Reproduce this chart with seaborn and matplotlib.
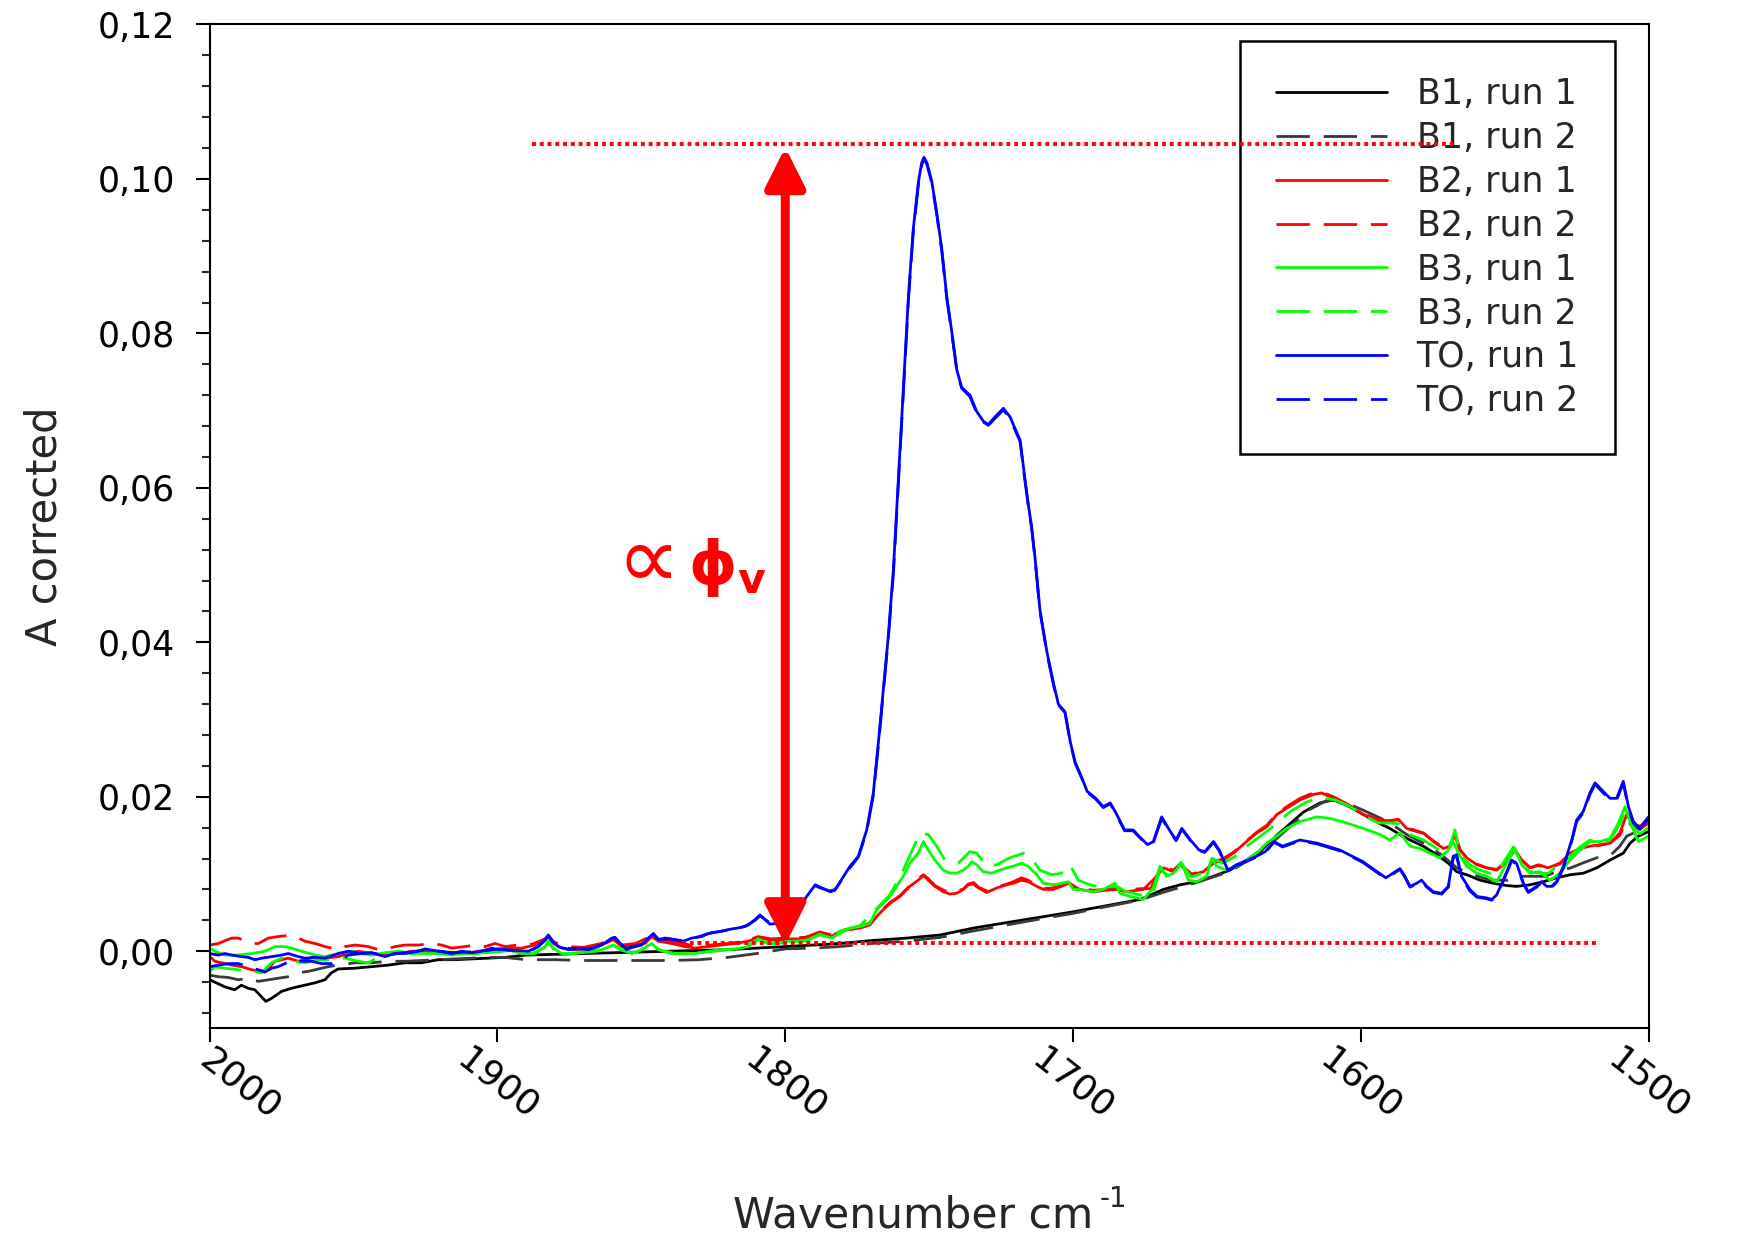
import numpy as np
import pandas as pd
import matplotlib
matplotlib.use('Agg')
import matplotlib.pyplot as plt
from matplotlib.ticker import FuncFormatter, MultipleLocator
from matplotlib.transforms import ScaledTranslation
import seaborn as sns

# 读数据: 每条曲线 [波数, A corrected]
b1_run1 = np.array([
    [2000.0, -0.0037], [1994.8, -0.0046], [1991.3, -0.0050], [1989.0, -0.0044], [1986.6, -0.0048],
    [1984.3, -0.0050], [1980.5, -0.0065], [1978.5, -0.0061], [1975.0, -0.0052], [1971.6, -0.0048],
    [1969.3, -0.0046], [1967.0, -0.0044], [1963.5, -0.0041], [1960.0, -0.0037], [1957.7, -0.0028],
    [1955.4, -0.0023], [1949.6, -0.0022], [1943.8, -0.0020], [1938.0, -0.0018], [1932.2, -0.0015],
    [1926.4, -0.0015], [1920.6, -0.0011], [1914.8, -0.0011], [1909.0, -0.0010], [1903.3, -0.0009],
    [1897.5, -0.0008], [1890.0, -0.0005], [1880.0, -0.0004], [1870.0, -0.0003], [1860.0, -0.0002],
    [1850.0, -0.0001], [1840.0, 0.0000], [1830.0, 0.0001], [1820.0, 0.0002], [1810.0, 0.0004],
    [1800.0, 0.0006], [1790.0, 0.0008], [1781.0, 0.0010], [1769.4, 0.0014], [1757.8, 0.0017],
    [1746.2, 0.0021], [1734.6, 0.0030], [1723.1, 0.0037], [1711.5, 0.0044], [1700.0, 0.0051],
    [1688.3, 0.0059], [1676.7, 0.0067], [1668.6, 0.0080], [1662.8, 0.0086], [1657.0, 0.0090],
    [1651.2, 0.0097], [1645.5, 0.0105], [1639.7, 0.0118], [1633.9, 0.0133], [1629.2, 0.0150],
    [1624.6, 0.0165], [1620.0, 0.0180], [1614.2, 0.0192], [1609.5, 0.0196], [1604.9, 0.0189],
    [1599.1, 0.0177], [1593.3, 0.0165], [1589.9, 0.0159], [1586.4, 0.0151], [1582.9, 0.0144],
    [1578.3, 0.0136], [1573.6, 0.0125], [1569.6, 0.0114], [1566.7, 0.0103], [1563.2, 0.0099],
    [1558.6, 0.0092], [1554.0, 0.0088], [1549.3, 0.0085], [1545.9, 0.0084], [1541.2, 0.0086],
    [1536.6, 0.0090], [1532.0, 0.0095], [1527.3, 0.0099], [1522.7, 0.0101], [1518.0, 0.0108],
    [1513.4, 0.0118], [1508.8, 0.0127], [1506.4, 0.0140], [1503.6, 0.0149], [1500.0, 0.0155],
])

b1_run2 = np.array([
    [2000.0, -0.0031], [1997.0, -0.0033], [1993.5, -0.0034], [1990.0, -0.0037], [1986.6, -0.0035],
    [1983.1, -0.0039], [1979.6, -0.0037], [1976.2, -0.0035], [1972.7, -0.0033], [1969.2, -0.0028],
    [1965.7, -0.0026], [1962.2, -0.0023], [1958.8, -0.0020], [1955.3, -0.0018], [1949.5, -0.0015],
    [1943.7, -0.0015], [1937.9, -0.0013], [1932.1, -0.0013], [1926.3, -0.0012], [1920.5, -0.0011],
    [1914.8, -0.0010], [1909.0, -0.0009], [1903.2, -0.0008], [1897.4, -0.0008], [1890.0, -0.0011],
    [1880.0, -0.0011], [1870.0, -0.0012], [1860.0, -0.0012], [1850.0, -0.0012], [1840.0, -0.0012],
    [1830.0, -0.0011], [1820.0, -0.0008], [1810.0, -0.0003], [1800.0, 0.0003], [1790.0, 0.0004],
    [1781.0, 0.0006], [1770.0, 0.0010], [1758.0, 0.0013], [1746.0, 0.0018], [1735.0, 0.0026],
    [1723.0, 0.0034], [1711.0, 0.0042], [1700.0, 0.0049], [1688.0, 0.0058], [1677.0, 0.0066],
    [1668.0, 0.0077], [1657.0, 0.0089], [1645.0, 0.0104], [1634.0, 0.0130], [1625.0, 0.0160],
    [1618.0, 0.0183], [1612.0, 0.0195], [1607.0, 0.0195], [1600.0, 0.0184], [1593.0, 0.0172],
    [1589.9, 0.0166], [1584.0, 0.0151], [1578.3, 0.0140], [1572.0, 0.0125], [1566.7, 0.0108],
    [1561.0, 0.0099], [1555.0, 0.0092], [1549.0, 0.0092], [1546.0, 0.0097], [1541.0, 0.0097],
    [1536.0, 0.0097], [1532.0, 0.0103], [1527.0, 0.0108], [1523.0, 0.0114], [1518.0, 0.0121],
    [1513.0, 0.0125], [1510.0, 0.0136], [1507.6, 0.0149], [1504.0, 0.0155], [1500.0, 0.0164],
])

b2_run1 = np.array([
    [2000.0, -0.0007], [1998.2, -0.0013], [1995.8, -0.0015], [1992.4, -0.0018], [1988.9, -0.0020],
    [1985.4, -0.0024], [1981.9, -0.0026], [1979.6, -0.0022], [1977.3, -0.0013], [1975.0, -0.0011],
    [1972.7, -0.0009], [1969.2, -0.0013], [1966.9, -0.0011], [1963.4, -0.0007], [1959.9, -0.0009],
    [1955.3, -0.0007], [1951.8, -0.0003], [1948.4, 0.0000], [1943.7, -0.0003], [1939.1, -0.0005],
    [1934.5, -0.0003], [1929.8, 0.0000], [1925.2, 0.0000], [1920.6, -0.0003], [1915.9, -0.0002],
    [1911.3, -0.0003], [1906.7, 0.0000], [1902.0, 0.0002], [1896.2, 0.0004], [1891.6, 0.0004],
    [1887.0, 0.0008], [1883.5, 0.0015], [1882.3, 0.0019], [1880.6, 0.0010], [1877.7, 0.0004],
    [1873.1, 0.0002], [1868.4, 0.0003], [1863.8, 0.0008], [1859.7, 0.0015], [1856.8, 0.0006],
    [1853.4, 0.0008], [1848.7, 0.0010], [1846.4, 0.0019], [1844.1, 0.0013], [1839.5, 0.0010],
    [1834.8, 0.0006], [1831.4, 0.0004], [1826.7, 0.0006], [1822.1, 0.0008], [1817.5, 0.0010],
    [1812.8, 0.0013], [1809.4, 0.0018], [1805.9, 0.0015], [1802.4, 0.0014], [1798.9, 0.0016],
    [1793.0, 0.0016], [1788.0, 0.0024], [1784.0, 0.0019], [1781.0, 0.0026], [1777.5, 0.0028],
    [1774.0, 0.0030], [1770.6, 0.0034], [1768.2, 0.0045], [1765.9, 0.0054], [1763.6, 0.0062],
    [1760.1, 0.0071], [1756.7, 0.0084], [1753.8, 0.0092], [1752.0, 0.0098], [1750.3, 0.0092],
    [1748.0, 0.0084], [1745.1, 0.0077], [1742.8, 0.0074], [1740.5, 0.0075], [1738.1, 0.0080],
    [1736.4, 0.0086], [1734.6, 0.0087], [1732.9, 0.0082], [1730.0, 0.0076], [1726.5, 0.0082],
    [1723.1, 0.0086], [1720.8, 0.0088], [1717.9, 0.0092], [1715.6, 0.0090], [1712.6, 0.0084],
    [1710.3, 0.0080], [1706.9, 0.0080], [1704.0, 0.0084], [1701.6, 0.0088], [1699.9, 0.0084],
    [1697.6, 0.0080], [1693.0, 0.0077], [1688.3, 0.0079], [1684.9, 0.0080], [1681.4, 0.0077],
    [1675.6, 0.0080], [1670.9, 0.0097], [1668.6, 0.0108], [1665.1, 0.0103], [1662.8, 0.0112],
    [1658.8, 0.0099], [1654.7, 0.0103], [1651.2, 0.0114], [1647.8, 0.0118], [1644.3, 0.0127],
    [1639.7, 0.0142], [1636.2, 0.0153], [1632.7, 0.0161], [1629.2, 0.0177], [1625.8, 0.0185],
    [1621.1, 0.0196], [1616.5, 0.0203], [1613.6, 0.0205], [1609.5, 0.0198], [1604.9, 0.0190],
    [1599.1, 0.0177], [1594.5, 0.0170], [1591.0, 0.0168], [1587.0, 0.0171], [1584.1, 0.0159],
    [1580.6, 0.0155], [1578.3, 0.0153], [1574.8, 0.0142], [1571.3, 0.0133], [1569.0, 0.0136],
    [1567.3, 0.0153], [1565.5, 0.0131], [1563.2, 0.0121], [1559.7, 0.0112], [1556.3, 0.0108],
    [1552.8, 0.0105], [1549.9, 0.0114], [1546.4, 0.0131], [1544.1, 0.0118], [1541.2, 0.0108],
    [1538.3, 0.0112], [1534.9, 0.0108], [1530.8, 0.0114], [1527.3, 0.0127], [1523.8, 0.0133],
    [1520.4, 0.0136], [1516.9, 0.0138], [1513.4, 0.0140], [1510.0, 0.0153], [1507.6, 0.0177],
    [1505.3, 0.0164], [1503.0, 0.0162], [1500.0, 0.0170],
])

b2_run2 = np.array([
    [2000.0, 0.0008], [1997.0, 0.0010], [1992.4, 0.0017], [1990.0, 0.0017], [1987.7, 0.0013],
    [1985.4, 0.0010], [1983.1, 0.0010], [1979.6, 0.0017], [1976.2, 0.0019], [1971.5, 0.0021],
    [1969.2, 0.0017], [1966.9, 0.0013], [1963.4, 0.0010], [1959.9, 0.0006], [1957.6, 0.0004],
    [1955.3, 0.0002], [1953.0, 0.0006], [1949.5, 0.0008], [1944.9, 0.0006], [1941.4, 0.0002],
    [1939.1, 0.0002], [1935.6, 0.0006], [1932.1, 0.0008], [1927.5, 0.0008], [1922.9, 0.0010],
    [1919.4, 0.0008], [1915.9, 0.0004], [1911.3, 0.0006], [1907.8, 0.0008], [1904.3, 0.0006],
    [1900.9, 0.0010], [1897.4, 0.0006], [1893.0, 0.0008], [1888.0, 0.0009], [1883.5, 0.0016],
    [1882.3, 0.0020], [1880.6, 0.0012], [1876.0, 0.0006], [1870.0, 0.0005], [1864.0, 0.0010],
    [1859.7, 0.0016], [1856.8, 0.0008], [1852.0, 0.0010], [1846.4, 0.0020], [1843.0, 0.0014],
    [1838.0, 0.0012], [1832.0, 0.0007], [1826.0, 0.0008], [1820.0, 0.0010], [1814.0, 0.0013],
    [1809.4, 0.0019], [1805.0, 0.0016], [1799.0, 0.0017], [1793.0, 0.0018], [1788.0, 0.0025],
    [1784.0, 0.0021], [1781.0, 0.0027], [1776.0, 0.0030], [1771.0, 0.0036], [1768.0, 0.0047],
    [1765.9, 0.0055], [1763.6, 0.0063], [1760.1, 0.0072], [1756.7, 0.0085], [1753.8, 0.0094],
    [1752.0, 0.0099], [1750.3, 0.0094], [1748.0, 0.0085], [1745.0, 0.0079], [1742.8, 0.0076],
    [1740.5, 0.0077], [1738.0, 0.0081], [1736.4, 0.0087], [1734.6, 0.0089], [1732.9, 0.0083],
    [1730.0, 0.0078], [1726.5, 0.0083], [1723.0, 0.0087], [1720.8, 0.0090], [1717.9, 0.0095],
    [1715.6, 0.0092], [1712.6, 0.0085], [1710.3, 0.0081], [1707.0, 0.0082], [1704.0, 0.0085],
    [1701.6, 0.0089], [1699.9, 0.0085], [1697.6, 0.0081], [1693.0, 0.0079], [1688.3, 0.0080],
    [1684.9, 0.0081], [1681.4, 0.0079], [1676.7, 0.0081], [1673.0, 0.0081], [1670.9, 0.0098],
    [1668.6, 0.0109], [1665.1, 0.0105], [1662.8, 0.0113], [1658.8, 0.0100], [1654.7, 0.0104],
    [1651.2, 0.0115], [1647.8, 0.0120], [1644.3, 0.0128], [1639.7, 0.0143], [1636.2, 0.0154],
    [1632.7, 0.0163], [1629.2, 0.0178], [1625.8, 0.0187], [1621.1, 0.0198], [1616.5, 0.0205],
    [1613.6, 0.0206], [1609.5, 0.0200], [1604.9, 0.0191], [1599.1, 0.0178], [1594.5, 0.0171],
    [1591.0, 0.0169], [1587.0, 0.0170], [1584.1, 0.0160], [1580.6, 0.0156], [1578.3, 0.0153],
    [1574.8, 0.0143], [1571.3, 0.0134], [1569.0, 0.0137], [1567.3, 0.0150], [1565.5, 0.0131],
    [1563.2, 0.0121], [1559.7, 0.0113], [1556.3, 0.0108], [1552.8, 0.0106], [1549.9, 0.0114],
    [1546.4, 0.0129], [1544.1, 0.0118], [1541.2, 0.0108], [1538.3, 0.0111], [1534.9, 0.0107],
    [1530.8, 0.0113], [1527.3, 0.0125], [1523.8, 0.0132], [1520.4, 0.0135], [1516.9, 0.0137],
    [1513.4, 0.0140], [1510.0, 0.0150], [1507.6, 0.0170], [1505.3, 0.0160], [1503.0, 0.0158],
    [1500.0, 0.0166],
])

b3_run1 = np.array([
    [2000.0, 0.0004], [1998.2, 0.0000], [1994.7, -0.0005], [1990.0, -0.0005], [1985.4, -0.0003],
    [1980.8, 0.0000], [1977.3, 0.0006], [1973.8, 0.0006], [1971.5, 0.0004], [1968.0, 0.0000],
    [1963.4, -0.0005], [1959.9, -0.0007], [1955.3, -0.0003], [1950.7, 0.0000], [1947.2, -0.0003],
    [1943.7, -0.0005], [1939.1, -0.0002], [1934.5, 0.0000], [1929.8, -0.0003], [1925.2, -0.0003],
    [1920.6, -0.0003], [1915.9, -0.0005], [1911.3, -0.0003], [1906.7, -0.0003], [1902.0, 0.0001],
    [1896.2, 0.0002], [1891.6, -0.0003], [1887.0, -0.0003], [1883.5, 0.0006], [1882.3, 0.0013],
    [1880.6, 0.0004], [1877.7, -0.0003], [1873.1, -0.0003], [1868.4, 0.0000], [1863.8, 0.0002],
    [1859.7, 0.0008], [1856.8, 0.0002], [1853.4, -0.0003], [1849.9, 0.0002], [1846.4, 0.0010],
    [1844.1, 0.0002], [1839.5, -0.0003], [1834.8, -0.0003], [1831.4, -0.0003], [1826.7, 0.0000],
    [1822.1, 0.0002], [1817.5, 0.0003], [1812.8, 0.0006], [1809.4, 0.0016], [1805.9, 0.0010],
    [1802.4, 0.0010], [1798.9, 0.0013], [1793.0, 0.0013], [1788.0, 0.0022], [1784.0, 0.0017],
    [1781.0, 0.0023], [1777.5, 0.0030], [1774.0, 0.0032], [1770.6, 0.0036], [1768.2, 0.0054],
    [1765.9, 0.0062], [1763.6, 0.0071], [1761.3, 0.0084], [1759.0, 0.0097], [1756.7, 0.0114],
    [1753.8, 0.0127], [1752.0, 0.0142], [1750.3, 0.0131], [1748.0, 0.0118], [1745.1, 0.0105],
    [1742.8, 0.0101], [1740.5, 0.0101], [1738.1, 0.0105], [1736.4, 0.0110], [1735.2, 0.0116],
    [1733.5, 0.0112], [1731.2, 0.0103], [1728.3, 0.0101], [1725.4, 0.0105], [1723.1, 0.0108],
    [1720.8, 0.0110], [1717.9, 0.0114], [1715.6, 0.0110], [1712.6, 0.0099], [1710.3, 0.0088],
    [1706.9, 0.0086], [1704.0, 0.0088], [1701.6, 0.0090], [1699.9, 0.0080], [1697.6, 0.0080],
    [1693.0, 0.0077], [1689.5, 0.0080], [1685.4, 0.0088], [1683.7, 0.0075], [1680.2, 0.0071],
    [1675.6, 0.0067], [1672.1, 0.0082], [1669.8, 0.0110], [1667.5, 0.0097], [1665.1, 0.0101],
    [1662.2, 0.0114], [1659.9, 0.0092], [1657.0, 0.0090], [1653.6, 0.0097], [1651.8, 0.0120],
    [1650.1, 0.0110], [1646.6, 0.0105], [1643.1, 0.0110], [1639.7, 0.0118], [1636.2, 0.0127],
    [1632.7, 0.0140], [1629.2, 0.0149], [1625.8, 0.0159], [1621.1, 0.0168], [1615.3, 0.0174],
    [1610.7, 0.0172], [1604.9, 0.0166], [1599.1, 0.0159], [1593.3, 0.0151], [1589.9, 0.0144],
    [1586.4, 0.0153], [1582.9, 0.0136], [1579.4, 0.0133], [1576.0, 0.0127], [1572.5, 0.0121],
    [1569.6, 0.0131], [1567.9, 0.0142], [1566.1, 0.0127], [1563.2, 0.0110], [1559.7, 0.0101],
    [1556.3, 0.0097], [1552.8, 0.0090], [1549.9, 0.0110], [1546.4, 0.0133], [1544.1, 0.0112],
    [1541.2, 0.0101], [1537.7, 0.0103], [1534.3, 0.0092], [1530.8, 0.0101], [1527.3, 0.0118],
    [1523.8, 0.0131], [1520.4, 0.0142], [1516.9, 0.0142], [1513.4, 0.0146], [1510.5, 0.0166],
    [1508.2, 0.0187], [1506.5, 0.0168], [1503.6, 0.0142], [1500.0, 0.0149],
])

b3_run2 = np.array([
    [2000.0, -0.0026], [1998.2, -0.0020], [1994.7, -0.0022], [1990.0, -0.0024], [1985.4, -0.0026],
    [1981.9, -0.0028], [1978.5, -0.0015], [1975.0, -0.0009], [1971.5, -0.0013], [1966.9, -0.0015],
    [1962.3, -0.0011], [1957.6, -0.0011], [1953.0, -0.0009], [1948.4, -0.0013], [1944.9, -0.0015],
    [1940.0, -0.0005], [1935.0, -0.0003], [1930.0, -0.0002], [1920.0, -0.0003], [1910.0, -0.0003],
    [1900.0, -0.0001], [1896.0, 0.0001], [1888.0, -0.0003], [1883.5, 0.0005], [1882.3, 0.0012],
    [1880.6, 0.0003], [1876.0, -0.0003], [1868.0, -0.0001], [1863.8, 0.0001], [1859.7, 0.0008],
    [1856.8, 0.0001], [1852.0, -0.0002], [1846.4, 0.0010], [1844.0, 0.0002], [1838.0, -0.0003],
    [1830.0, -0.0002], [1822.0, 0.0001], [1815.0, 0.0004], [1809.4, 0.0015], [1806.0, 0.0010],
    [1799.0, 0.0012], [1793.0, 0.0014], [1788.0, 0.0021], [1784.0, 0.0018], [1781.0, 0.0026],
    [1774.0, 0.0033], [1769.4, 0.0051], [1763.6, 0.0073], [1759.0, 0.0105], [1756.1, 0.0129],
    [1753.2, 0.0153], [1750.3, 0.0151], [1747.4, 0.0136], [1744.5, 0.0118], [1739.9, 0.0114],
    [1735.8, 0.0129], [1733.5, 0.0127], [1730.0, 0.0110], [1726.5, 0.0112], [1722.5, 0.0120],
    [1717.3, 0.0127], [1714.4, 0.0120], [1711.5, 0.0105], [1707.4, 0.0099], [1704.0, 0.0101],
    [1701.1, 0.0112], [1698.2, 0.0092], [1694.1, 0.0086], [1689.5, 0.0082], [1684.8, 0.0084],
    [1681.4, 0.0077], [1676.7, 0.0073], [1672.1, 0.0075], [1669.8, 0.0107], [1667.0, 0.0098],
    [1662.5, 0.0115], [1659.0, 0.0096], [1654.0, 0.0102], [1651.5, 0.0120], [1648.0, 0.0114],
    [1644.0, 0.0122], [1640.0, 0.0135], [1636.0, 0.0146], [1632.0, 0.0157], [1628.0, 0.0170],
    [1624.0, 0.0182], [1619.0, 0.0193], [1614.0, 0.0199], [1609.0, 0.0196], [1604.0, 0.0188],
    [1599.0, 0.0176], [1594.0, 0.0166], [1589.9, 0.0166], [1586.4, 0.0165], [1582.9, 0.0151],
    [1578.3, 0.0144], [1574.8, 0.0136], [1571.3, 0.0127], [1569.0, 0.0136], [1567.3, 0.0157],
    [1565.5, 0.0125], [1562.1, 0.0112], [1558.6, 0.0105], [1555.1, 0.0101], [1552.8, 0.0101],
    [1549.9, 0.0118], [1547.0, 0.0135], [1544.1, 0.0112], [1541.2, 0.0103], [1537.7, 0.0101],
    [1534.9, 0.0101], [1531.9, 0.0110], [1527.3, 0.0123], [1523.8, 0.0135], [1520.4, 0.0144],
    [1515.7, 0.0140], [1513.4, 0.0144], [1509.9, 0.0166], [1508.5, 0.0178], [1506.0, 0.0163],
    [1503.0, 0.0152], [1500.0, 0.0160],
])

to_run1 = np.array([
    [2000.0, -0.0003], [1997.0, -0.0005], [1994.7, -0.0003], [1992.4, -0.0005], [1988.9, -0.0007],
    [1986.6, -0.0008], [1984.3, -0.0011], [1981.9, -0.0009], [1978.5, -0.0007], [1975.0, -0.0005],
    [1972.7, -0.0003], [1969.2, -0.0007], [1966.9, -0.0009], [1963.4, -0.0008], [1959.9, -0.0009],
    [1955.3, -0.0003], [1951.8, 0.0000], [1947.2, -0.0003], [1943.7, -0.0002], [1939.1, -0.0007],
    [1935.6, -0.0003], [1932.1, -0.0003], [1927.5, 0.0000], [1925.2, 0.0003], [1920.5, 0.0000],
    [1915.9, -0.0003], [1912.4, 0.0000], [1909.0, -0.0002], [1905.5, 0.0000], [1902.0, 0.0004],
    [1899.7, 0.0002], [1897.4, 0.0002], [1893.9, 0.0001], [1889.3, 0.0000], [1885.8, 0.0006],
    [1883.5, 0.0015], [1882.3, 0.0021], [1881.2, 0.0015], [1878.9, 0.0006], [1875.4, 0.0002],
    [1871.9, 0.0004], [1868.4, 0.0002], [1865.0, 0.0006], [1862.6, 0.0011], [1860.3, 0.0017],
    [1859.2, 0.0018], [1857.4, 0.0010], [1855.1, 0.0002], [1853.4, 0.0006], [1849.9, 0.0008],
    [1847.6, 0.0017], [1845.8, 0.0023], [1844.1, 0.0015], [1841.8, 0.0017], [1838.3, 0.0015],
    [1835.4, 0.0013], [1832.5, 0.0017], [1829.0, 0.0019], [1826.7, 0.0023], [1822.1, 0.0026],
    [1819.8, 0.0028], [1815.1, 0.0031], [1812.8, 0.0034], [1810.5, 0.0041], [1808.8, 0.0047],
    [1807.0, 0.0041], [1805.3, 0.0035], [1803.0, 0.0036], [1794.9, 0.0059], [1789.6, 0.0086],
    [1787.9, 0.0083], [1784.4, 0.0077], [1782.7, 0.0079], [1780.4, 0.0093], [1777.5, 0.0110],
    [1774.6, 0.0123], [1771.7, 0.0157], [1769.4, 0.0205], [1767.6, 0.0272], [1765.9, 0.0340],
    [1764.2, 0.0408], [1762.4, 0.0496], [1760.7, 0.0611], [1758.9, 0.0733], [1757.2, 0.0848],
    [1755.5, 0.0936], [1753.7, 0.0997], [1752.6, 0.1021], [1751.8, 0.1028], [1750.8, 0.1021],
    [1749.1, 0.0997], [1747.4, 0.0957], [1745.6, 0.0909], [1743.9, 0.0848], [1742.1, 0.0801],
    [1740.4, 0.0753], [1738.7, 0.0730], [1735.8, 0.0720], [1733.5, 0.0699], [1731.1, 0.0686],
    [1729.4, 0.0682], [1727.1, 0.0692], [1724.2, 0.0703], [1721.9, 0.0692], [1719.6, 0.0672],
    [1718.4, 0.0662], [1716.7, 0.0611], [1715.5, 0.0577], [1714.4, 0.0550], [1713.2, 0.0509],
    [1711.5, 0.0442], [1709.1, 0.0388], [1706.8, 0.0347], [1705.1, 0.0320], [1702.8, 0.0310],
    [1701.0, 0.0272], [1699.3, 0.0245], [1697.1, 0.0226], [1695.1, 0.0207], [1692.1, 0.0198],
    [1689.5, 0.0187], [1687.1, 0.0192], [1685.1, 0.0179], [1682.1, 0.0157], [1679.1, 0.0157],
    [1677.1, 0.0149], [1674.1, 0.0138], [1672.1, 0.0142], [1669.2, 0.0174], [1666.2, 0.0155],
    [1664.2, 0.0144], [1662.2, 0.0159], [1659.2, 0.0144], [1656.2, 0.0131], [1654.2, 0.0129],
    [1651.2, 0.0142], [1649.2, 0.0131], [1646.2, 0.0105], [1643.2, 0.0112], [1639.2, 0.0118],
    [1636.2, 0.0123], [1633.2, 0.0129], [1630.2, 0.0142], [1627.2, 0.0136], [1621.2, 0.0144],
    [1615.3, 0.0140], [1607.3, 0.0131], [1599.3, 0.0116], [1591.3, 0.0095], [1586.4, 0.0107],
    [1584.7, 0.0097], [1582.9, 0.0084], [1580.6, 0.0088], [1578.9, 0.0092], [1577.1, 0.0084],
    [1574.8, 0.0077], [1571.9, 0.0075], [1569.6, 0.0084], [1567.9, 0.0123], [1566.7, 0.0125],
    [1565.0, 0.0097], [1562.1, 0.0080], [1559.7, 0.0071], [1556.3, 0.0069], [1554.5, 0.0067],
    [1552.8, 0.0073], [1550.5, 0.0092], [1547.6, 0.0118], [1545.9, 0.0114], [1543.5, 0.0088],
    [1541.8, 0.0077], [1538.9, 0.0084], [1537.2, 0.0090], [1535.4, 0.0084], [1533.7, 0.0084],
    [1532.0, 0.0090], [1529.6, 0.0110], [1526.7, 0.0144], [1525.0, 0.0170], [1522.7, 0.0181],
    [1520.4, 0.0205], [1518.6, 0.0218], [1516.3, 0.0209], [1513.4, 0.0198], [1511.1, 0.0198],
    [1508.8, 0.0220], [1507.0, 0.0187], [1505.3, 0.0168], [1503.0, 0.0159], [1501.3, 0.0168],
    [1500.0, 0.0174],
])

to_run2 = np.array([
    [2000.0, -0.0020], [1997.0, -0.0018], [1993.5, -0.0016], [1990.0, -0.0016], [1986.6, -0.0020],
    [1983.1, -0.0024], [1980.8, -0.0027], [1978.5, -0.0022], [1976.2, -0.0020], [1973.8, -0.0016],
    [1971.5, -0.0011], [1969.2, -0.0013], [1966.9, -0.0013], [1964.6, -0.0013], [1961.1, -0.0016],
    [1957.6, -0.0016], [1955.3, -0.0013], [1951.8, -0.0005], [1947.2, -0.0003], [1943.7, -0.0002],
    [1939.1, -0.0006], [1935.6, -0.0003], [1930.0, -0.0001], [1925.0, 0.0002], [1920.0, 0.0000],
    [1915.0, -0.0002], [1910.0, -0.0001], [1905.0, 0.0000], [1900.0, 0.0003], [1895.0, 0.0001],
    [1889.0, 0.0000], [1885.8, 0.0006], [1883.5, 0.0014], [1882.3, 0.0020], [1881.2, 0.0014],
    [1878.9, 0.0006], [1874.0, 0.0003], [1868.0, 0.0003], [1863.0, 0.0009], [1860.3, 0.0016],
    [1859.0, 0.0017], [1857.4, 0.0010], [1855.0, 0.0003], [1850.0, 0.0008], [1847.6, 0.0016],
    [1845.8, 0.0022], [1844.0, 0.0015], [1840.0, 0.0016], [1835.4, 0.0013], [1832.5, 0.0016],
    [1829.0, 0.0020], [1826.7, 0.0023], [1822.0, 0.0026], [1818.0, 0.0029], [1814.0, 0.0032],
    [1810.5, 0.0040], [1808.8, 0.0046], [1807.0, 0.0041], [1805.0, 0.0036], [1803.0, 0.0037],
    [1795.0, 0.0058], [1789.6, 0.0085], [1787.9, 0.0082], [1784.4, 0.0078], [1782.7, 0.0080],
    [1780.4, 0.0092], [1777.5, 0.0108], [1774.6, 0.0122], [1771.7, 0.0155], [1769.4, 0.0202],
    [1767.6, 0.0268], [1765.9, 0.0336], [1764.2, 0.0404], [1762.4, 0.0490], [1760.7, 0.0605],
    [1758.9, 0.0728], [1757.2, 0.0843], [1755.5, 0.0932], [1753.7, 0.0994], [1752.6, 0.1018],
    [1751.8, 0.1026], [1750.8, 0.1019], [1749.1, 0.0995], [1747.4, 0.0955], [1745.6, 0.0906],
    [1743.9, 0.0846], [1742.1, 0.0799], [1740.4, 0.0752], [1738.7, 0.0729], [1735.8, 0.0718],
    [1733.5, 0.0697], [1731.1, 0.0685], [1729.4, 0.0681], [1727.1, 0.0690], [1724.2, 0.0701],
    [1721.9, 0.0690], [1719.6, 0.0670], [1718.4, 0.0660], [1716.7, 0.0609], [1715.5, 0.0575],
    [1714.4, 0.0548], [1713.2, 0.0507], [1711.5, 0.0440], [1709.1, 0.0386], [1706.8, 0.0345],
    [1705.1, 0.0319], [1702.8, 0.0309], [1701.0, 0.0271], [1699.3, 0.0244], [1697.1, 0.0225],
    [1695.1, 0.0206], [1692.1, 0.0197], [1689.5, 0.0186], [1687.1, 0.0191], [1685.1, 0.0178],
    [1682.1, 0.0156], [1679.1, 0.0156], [1677.1, 0.0148], [1674.1, 0.0137], [1672.1, 0.0141],
    [1669.2, 0.0172], [1666.2, 0.0154], [1664.2, 0.0143], [1662.2, 0.0158], [1659.2, 0.0143],
    [1656.2, 0.0130], [1654.2, 0.0128], [1651.2, 0.0141], [1649.2, 0.0130], [1646.2, 0.0104],
    [1643.2, 0.0111], [1639.2, 0.0117], [1636.2, 0.0122], [1633.2, 0.0128], [1630.2, 0.0141],
    [1627.2, 0.0135], [1621.2, 0.0143], [1615.3, 0.0139], [1607.3, 0.0130], [1599.3, 0.0115],
    [1591.3, 0.0094], [1586.4, 0.0106], [1584.7, 0.0096], [1582.9, 0.0083], [1580.6, 0.0087],
    [1578.9, 0.0091], [1577.1, 0.0083], [1574.8, 0.0076], [1571.9, 0.0074], [1569.6, 0.0083],
    [1567.9, 0.0121], [1566.7, 0.0123], [1565.0, 0.0095], [1562.1, 0.0078], [1559.7, 0.0070],
    [1556.3, 0.0068], [1554.5, 0.0066], [1552.8, 0.0072], [1550.5, 0.0091], [1547.6, 0.0117],
    [1545.9, 0.0113], [1543.5, 0.0087], [1541.8, 0.0076], [1538.9, 0.0083], [1537.2, 0.0089],
    [1535.4, 0.0083], [1533.7, 0.0083], [1532.0, 0.0089], [1529.6, 0.0108], [1526.7, 0.0143],
    [1525.0, 0.0168], [1522.7, 0.0179], [1520.4, 0.0203], [1518.6, 0.0216], [1516.3, 0.0207],
    [1513.4, 0.0196], [1511.1, 0.0196], [1508.8, 0.0218], [1507.0, 0.0185], [1505.3, 0.0166],
    [1503.0, 0.0158], [1501.3, 0.0166], [1500.0, 0.0173],
])

series_labels = ['B1, run 1', 'B1, run 2', 'B2, run 1', 'B2, run 2',
                 'B3, run 1', 'B3, run 2', 'TO, run 1', 'TO, run 2']
series_data = [b1_run1, b1_run2, b2_run1, b2_run2, b3_run1, b3_run2, to_run1, to_run2]
series_colors = ['#000000', '#3a3a3a', '#ff0000', '#ff0000',
                 '#00ff00', '#00ff00', '#0000ff', '#0000ff']

y_ticks = [0.00, 0.02, 0.04, 0.06, 0.08, 0.10, 0.12]
x_ticks = [2000, 1900, 1800, 1700, 1600, 1500]

# 标注: 峰高箭头和两条红色虚线
arrow_wn = 1800
peak_level = 0.1045
base_level = 0.0011
peak_span = [1888, 1568]
base_span = [1836, 1517]

frames = []
for lab, arr in zip(series_labels, series_data):
    frames.append(pd.DataFrame({'wn': arr[:, 0], 'A': arr[:, 1], 'serie': lab}))
df = pd.concat(frames, ignore_index=True)

sns.set_style('ticks')
plt.rcParams['font.family'] = ['DejaVu Sans']
plt.rcParams['mathtext.fontset'] = 'dejavusans'

fig = plt.figure(figsize=(17.49, 12.37), dpi=100)
ax = fig.add_axes([0.1199, 0.1686, 0.8227, 0.8116])

dash_map = {lab: ('' if 'run 1' in lab else (12, 5)) for lab in series_labels}
sns.lineplot(data=df, x='wn', y='A', hue='serie', style='serie',
             hue_order=series_labels, style_order=series_labels,
             palette=dict(zip(series_labels, series_colors)), dashes=dash_map,
             estimator=None, sort=False, lw=2.0, ax=ax)

ax.set_xlim(2000, 1500)
ax.set_ylim(-0.01, 0.12)
ax.set_xticks(x_ticks)
ax.set_yticks(y_ticks)
ax.yaxis.set_minor_locator(MultipleLocator(0.004))
ax.yaxis.set_major_formatter(FuncFormatter(lambda v, p: f'{v:.2f}'.replace('.', ',')))

for s in ax.spines.values():
    s.set_linewidth(1.5)
    s.set_color('black')
ax.tick_params(axis='both', which='major', direction='out', length=10, width=1.5,
               labelsize=25, colors='black')
ax.tick_params(axis='y', which='minor', direction='out', length=5.5, width=1.5)
ax.tick_params(axis='y', which='major', pad=15)
ax.tick_params(axis='x', which='major', pad=0, labelsize=26)
for lbl in ax.get_xticklabels():
    lbl.set_rotation(-38)
    lbl.set_ha('center')
    lbl.set_va('top')
# 第一个刻度标签在原图中稍微偏右
first = ax.get_xticklabels()[0]
first.set_transform(first.get_transform() + ScaledTranslation(0.30, 0, fig.dpi_scale_trans))

ax.set_xlabel('')
fig.text(0.419, 0.0075, 'Wavenumber cm', fontsize=30.5, ha='left', va='baseline')
fig.text(0.629, 0.024, '-1', fontsize=20, ha='left', va='baseline')
ax.set_ylabel('A corrected', fontsize=30)
ax.yaxis.set_label_coords(-0.10, 0.5)

handles, labels = ax.get_legend_handles_labels()
leg = ax.legend(handles, labels, loc='upper right', bbox_to_anchor=(0.9767, 0.9836),
                borderaxespad=0, fontsize=25, handlelength=3.2, handletextpad=0.84,
                labelspacing=0.285, borderpad=1.04, fancybox=False, framealpha=1,
                edgecolor='black')
leg.get_frame().set_linewidth(1.8)
leg.set_zorder(5)

ax.hlines(peak_level, peak_span[0], peak_span[1], colors='red', lw=2.8,
          linestyles=(0, (1, 1)), zorder=6)
ax.hlines(base_level, base_span[0], base_span[1], colors='red', lw=2.8,
          linestyles=(0, (1, 1)), zorder=6)

ax.annotate('', xy=(arrow_wn, peak_level - 0.0004), xytext=(arrow_wn, base_level - 0.0003),
            arrowprops=dict(arrowstyle='<|-|>,head_length=1.2,head_width=0.6',
                            color='red', lw=6.5, shrinkA=0, shrinkB=0, mutation_scale=20),
            zorder=7)
ax.text(1847.7, 0.0502, '\u221d', color='red', fontsize=64,
        ha='center', va='center')
ax.text(1820.2, 0.0497, r'$\mathbf{\phi}_\mathbf{v}$', color='red', fontsize=44,
        ha='center', va='center')

fig.savefig('out.png', dpi=100)
